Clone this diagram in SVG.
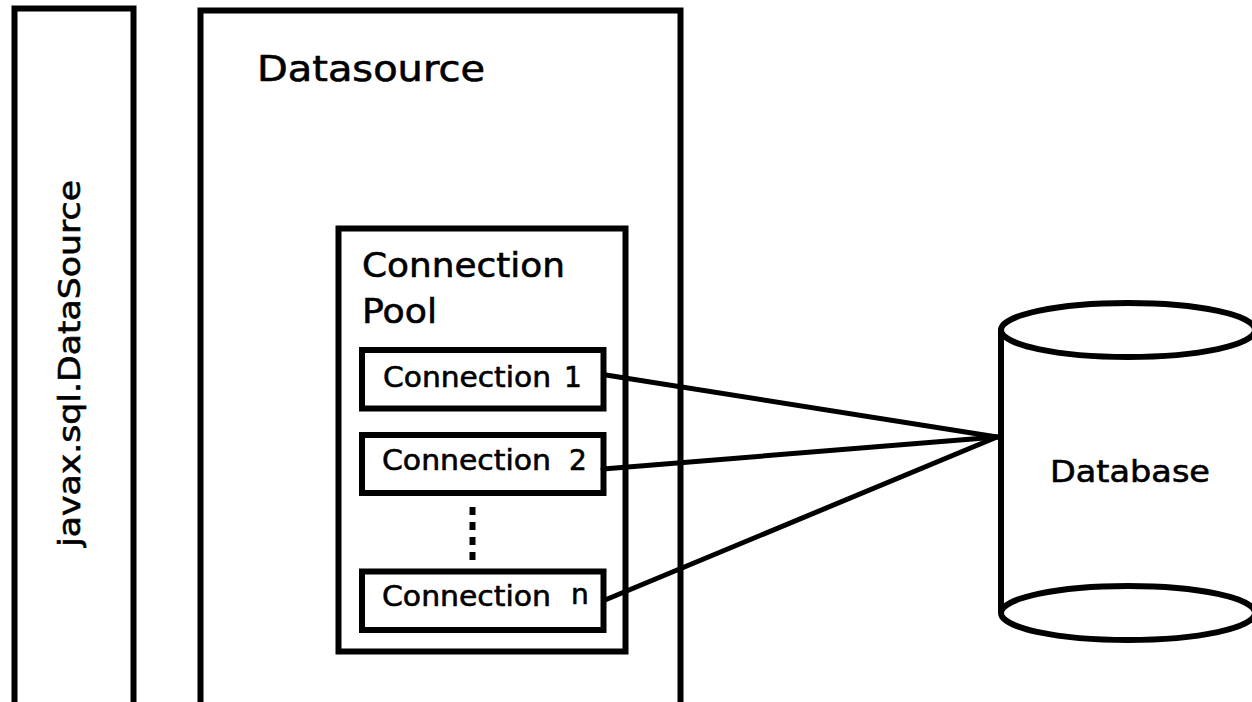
<svg xmlns="http://www.w3.org/2000/svg" width="1252" height="702" viewBox="0 0 1252 702">
<style>
.box{fill:#fff;stroke:#000;stroke-width:6}
.t{font-family:"DejaVu Sans",Verdana,sans-serif;fill:#000;stroke:#000;stroke-width:0.6}
.c{font-size:28px}
.ln{stroke:#000;stroke-width:5;fill:none;stroke-linecap:round}
</style>
<rect width="1252" height="702" fill="#fff"/>
<g id="javax">
<rect class="box" x="14.5" y="8.5" width="119" height="720"/>
<text class="t" font-size="30" transform="translate(80,547) rotate(-90)" textLength="367" lengthAdjust="spacingAndGlyphs">javax.sql.DataSource</text>
</g>
<g id="datasource">
<rect class="box" x="200.5" y="10.5" width="480" height="720"/>
<text class="t" x="257" y="81" font-size="35" textLength="228" lengthAdjust="spacingAndGlyphs">Datasource</text>
</g>
<g id="pool">
<rect class="box" x="338.5" y="228.5" width="287" height="423"/>
<text class="t" x="362" y="277" font-size="34" textLength="203" lengthAdjust="spacingAndGlyphs">Connection</text>
<text class="t" x="362" y="323" font-size="34" textLength="75" lengthAdjust="spacingAndGlyphs">Pool</text>
</g>
<g id="conn1">
<rect class="box" x="362" y="350" width="241.5" height="58.5"/>
<text class="t c"><tspan x="383" y="387" textLength="168" lengthAdjust="spacingAndGlyphs">Connection</tspan> <tspan x="564" y="387">1</tspan></text>
</g>
<g id="conn2">
<rect class="box" x="362" y="435" width="241.5" height="58"/>
<text class="t c"><tspan x="382" y="470" textLength="169" lengthAdjust="spacingAndGlyphs">Connection</tspan> <tspan x="569" y="470">2</tspan></text>
</g>
<g id="ellipsis">
<line x1="472.5" y1="507" x2="472.5" y2="561" stroke="#000" stroke-width="6" stroke-dasharray="8 7"/>
</g>
<g id="connn">
<rect class="box" x="362" y="571.5" width="241.5" height="58.5"/>
<text class="t c"><tspan x="382" y="606" textLength="169" lengthAdjust="spacingAndGlyphs">Connection</tspan> <tspan x="571" y="604">n</tspan></text>
</g>
<g id="database">
<path d="M1001,330 L1001,613 A127,27 0 0 0 1255,613 L1255,330" fill="#fff" stroke="#000" stroke-width="6"/>
<ellipse cx="1128" cy="330" rx="127" ry="27" fill="#fff" stroke="#000" stroke-width="6"/>
<path d="M1001,613 A127,27 0 0 1 1255,613" fill="none" stroke="#000" stroke-width="6"/>
<text class="t" x="1050" y="482" font-size="30" textLength="160" lengthAdjust="spacingAndGlyphs">Database</text>
</g>
<g id="connectors">
<line class="ln" x1="606" y1="375" x2="997" y2="437"/>
<line class="ln" x1="603" y1="469" x2="997" y2="437"/>
<line class="ln" x1="605" y1="600" x2="997" y2="437"/>
</g>
</svg>
